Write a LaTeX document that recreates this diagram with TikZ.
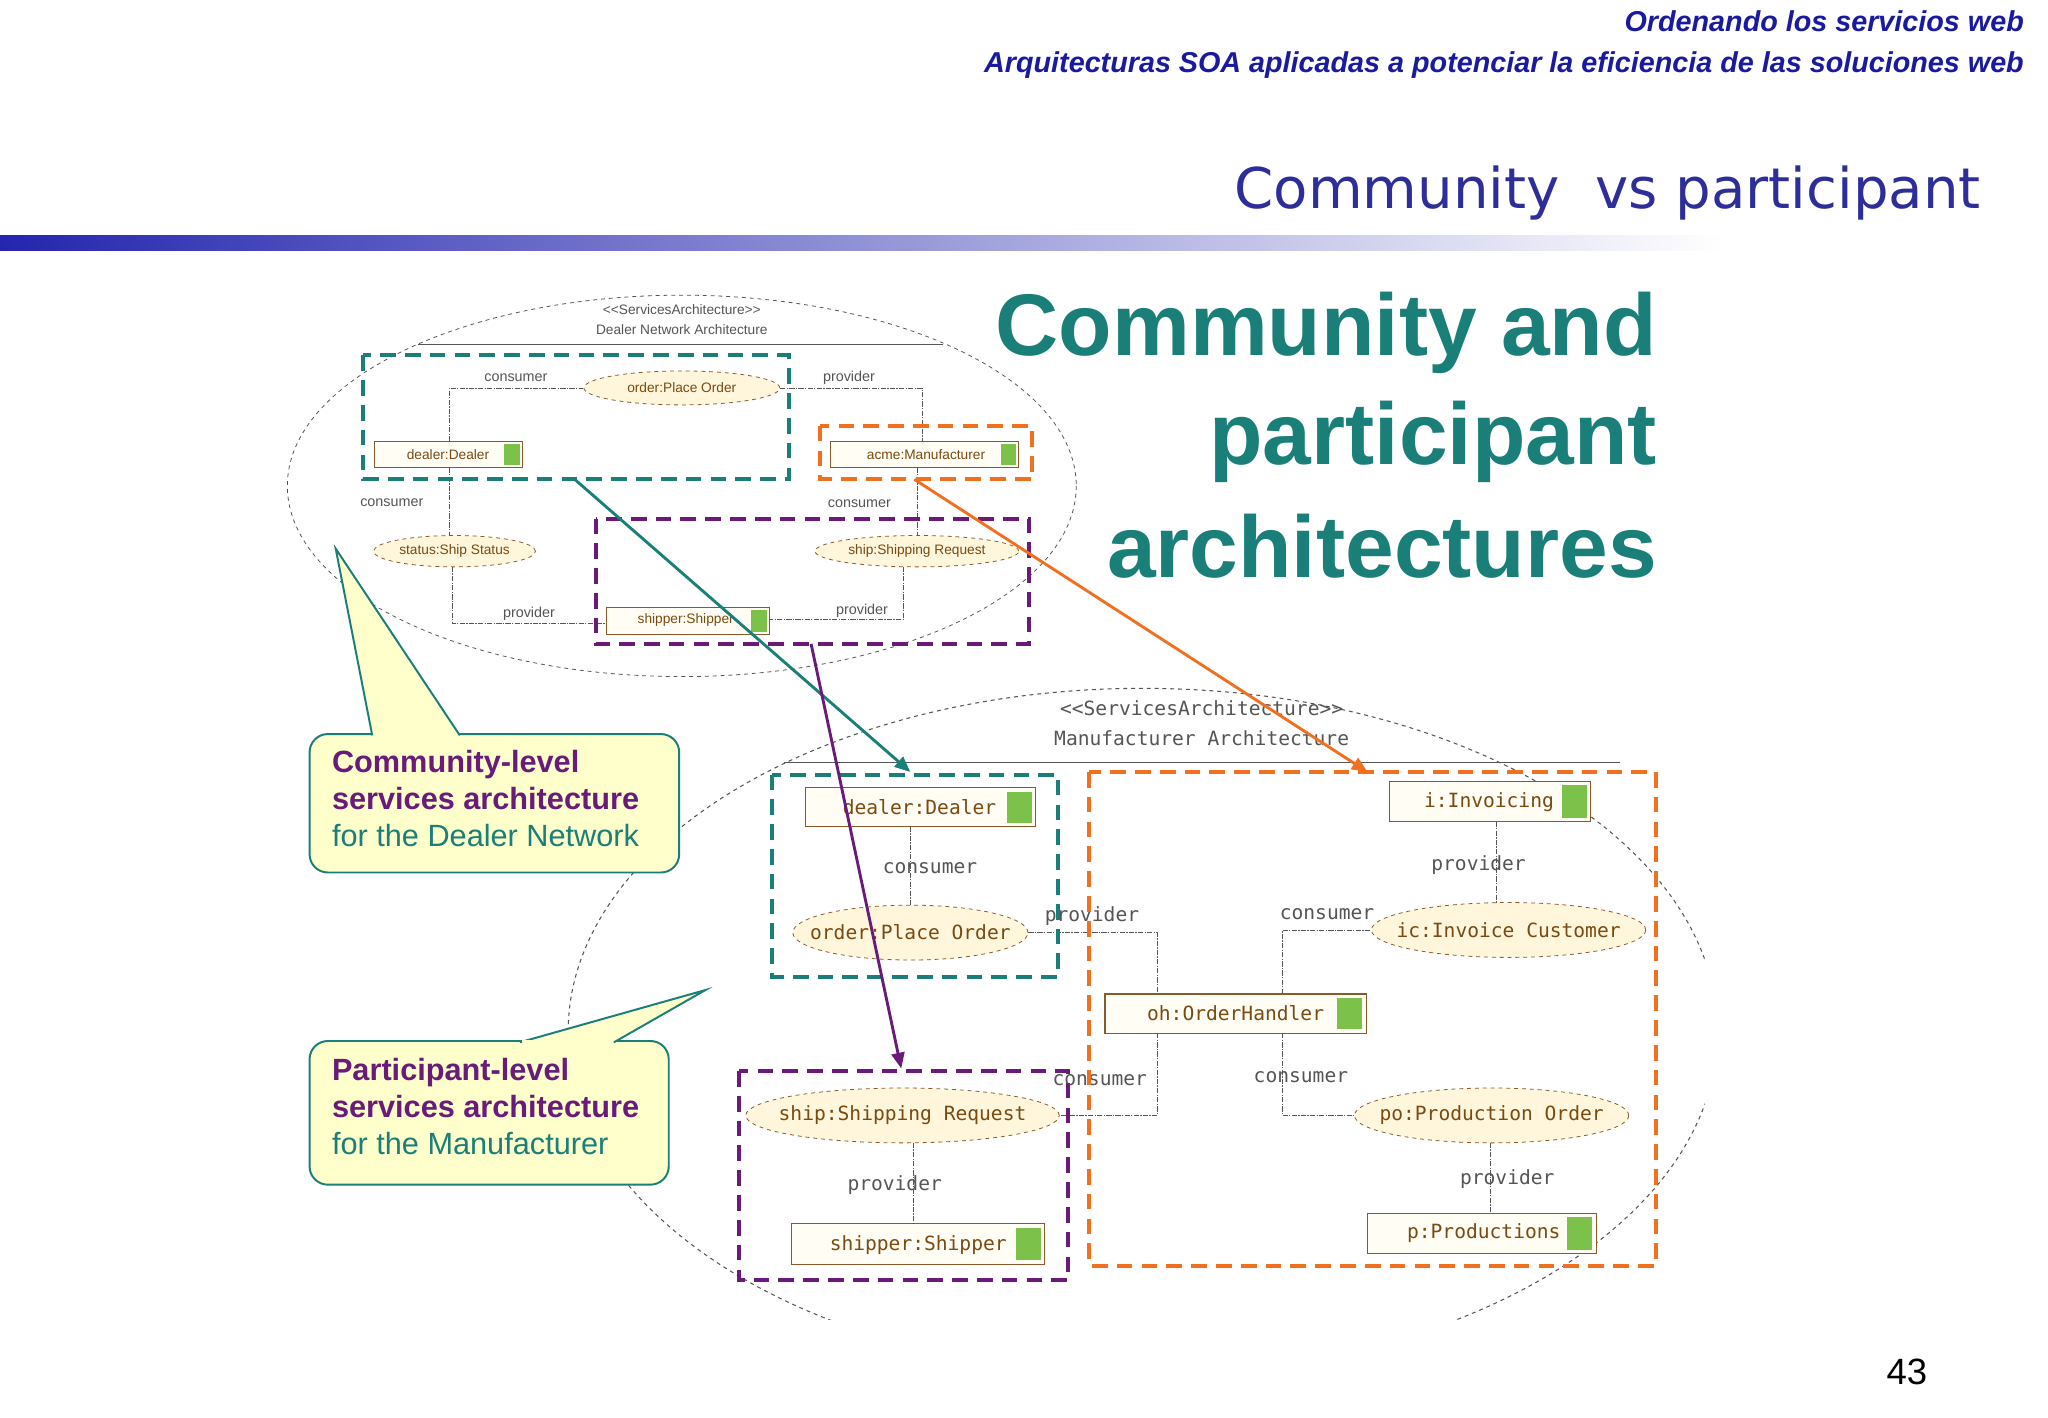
\documentclass[tikz,border=0pt]{standalone}
\usepackage{fontspec}
\setmainfont{Liberation Sans}
\newfontfamily\mono{DejaVu Sans Mono}
\newfontfamily\verd{DejaVu Sans}
\usetikzlibrary{arrows.meta,shapes.geometric}
\definecolor{teal1}{HTML}{1A7F78}
\definecolor{org}{HTML}{F07020}
\definecolor{pur}{HTML}{6A1B7A}
\definecolor{tblue}{HTML}{2E2E9A}
\definecolor{hblue}{HTML}{1A1AA0}
\definecolor{brn}{HTML}{8B5A2B}
\definecolor{ntxt}{HTML}{7A4A10}
\definecolor{efill}{HTML}{FFF6DC}
\definecolor{bfill}{HTML}{FFFDF4}
\definecolor{icon}{HTML}{7CC24A}
\definecolor{lgray}{HTML}{555555}
\definecolor{callf}{HTML}{FFFFCC}
\begin{document}
\begin{tikzpicture}[x=1pt,y=-1pt,
  sbox/.style={draw=brn,fill=bfill,line width=0.8pt},
  sell/.style={draw=brn,fill=efill,dashed,line width=0.6pt},
  conn/.style={draw=lgray,line width=0.6pt,dash pattern=on 4pt off 1pt on 1pt off 1pt},
  lab/.style={text=lgray,inner sep=1pt},
  tdash/.style={draw=teal1,line width=3pt,dash pattern=on 12pt off 7pt},
  odash/.style={draw=org,line width=3pt,dash pattern=on 12pt off 7pt},
  pdash/.style={draw=pur,line width=3pt,dash pattern=on 12pt off 7pt},
  ntx/.style={text=ntxt,inner sep=0pt},
  big/.style={text=teal1,font=\fontsize{67}{70}\selectfont\bfseries,anchor=east}]
\useasboundingbox (0,0) rectangle (1568,1085);
\fill[white] (0,0) rectangle (1568,1085);
% header
\node[anchor=east,text=hblue,font=\fontsize{22}{24}\selectfont\bfseries\itshape] (h1) at (1553,16) {Ordenando los servicios web};
\node[anchor=east,text=hblue,font=\fontsize{22}{24}\selectfont\bfseries\itshape] (h2) at (1553,50) {Arquitecturas SOA aplicadas a potenciar la eficiencia de las soluciones web};
\node[anchor=east,text=tblue,font=\verd\fontsize{43}{48}\selectfont] (ttl) at (1520,148) {Community\ \ vs participant};
\shade[left color=tblue!80!blue, right color=white] (0,180) rectangle (1320,192);
\node[font=\fontsize{28}{30}\selectfont] (pg) at (1460,1050) {43};
% big title
\node[big] (b1) at (1272,255) {Community and};
\node[big] (b2) at (1272,338) {participant};
\node[big] (b3) at (1272,418) {architectures};
% ===== top diagram
\draw[lgray,dashed,line width=0.6pt] (522,372) ellipse (302 and 146);
\draw[lgray,line width=0.5pt] (320,264) -- (722,264);
\node[lgray,font=\fontsize{10.5}{12}\selectfont] (t1) at (522,237) {<{}<ServicesArchitecture>{}>};
\node[lgray,font=\fontsize{10.5}{12}\selectfont] (t2) at (522,252) {Dealer Network Architecture};
\path (522,297) node[ellipse,sell,minimum width=150pt,minimum height=26pt] (oe) {};
\node[ntx,font=\fontsize{10.5}{12}\selectfont] at (522,297) {order:Place Order};
\path (348,422) node[ellipse,sell,minimum width=124pt,minimum height=24pt] (se) {};
\node[ntx,font=\fontsize{10.5}{12}\selectfont] at (348,422) {status:Ship Status};
\path (702,422) node[ellipse,sell,minimum width=156pt,minimum height=24pt] (she) {};
\node[ntx,font=\fontsize{10.5}{12}\selectfont] at (702,422) {ship:Shipping Request};
\draw[sbox] (287,338) rectangle (400,358); \fill[icon] (386,340) rectangle (398,356);
\node[ntx,font=\fontsize{10.5}{12}\selectfont] (dd) at (343,348) {dealer:Dealer};
\draw[sbox] (636,338) rectangle (780,358); \fill[icon] (766,340) rectangle (778,356);
\node[ntx,font=\fontsize{10.5}{12}\selectfont] (am) at (709,348) {acme:Manufacturer};
\draw[sbox] (464,465) rectangle (589,486); \fill[icon] (575,467) rectangle (587,484);
\node[ntx,font=\fontsize{10.5}{12}\selectfont] (ss) at (525,475) {shipper:Shipper};
\draw[conn] (344,338) |- (oe.west);
\draw[conn] (oe.east) -| (706,338);
\draw[conn] (344,358) -- (344,410);
\draw[conn] (346,434) |- (464,477);
\draw[conn] (702,358) -- (702,410);
\draw[conn] (692,434) |- (589,474);
\begin{scope}[font=\fontsize{11}{12}\selectfont]
\node[lab] at (395,289) {consumer};
\node[lab] at (650,289) {provider};
\node[lab] at (300,385) {consumer};
\node[lab] at (658,386) {consumer};
\node[lab] at (405,470) {provider};
\node[lab] at (660,468) {provider};
\end{scope}
\draw[tdash] (278,272) rectangle (604,367);
\draw[odash] (628,326) rectangle (790,367);
\draw[pdash] (456,397) rectangle (788,493);
% ===== bottom diagram
\begin{scope}
\clip (430,520) rectangle (1305,1010);
\draw[lgray,dashed,line width=0.8pt] (875,790) ellipse (440 and 263);
\end{scope}
\draw[lgray,line width=0.6pt] (600,584) -- (1240,584);
\node[lgray,font=\mono\fontsize{15}{17}\selectfont] (t3) at (920,542) {<{}<ServicesArchitecture>{}>};
\node[lgray,font=\mono\fontsize{15}{17}\selectfont] (t4) at (920,565) {Manufacturer Architecture};
\begin{scope}[font=\mono\fontsize{15}{17}\selectfont]
\path (697,714) node[ellipse,sell,minimum width=180pt,minimum height=42pt] (oe2) {};
\node[ntx] at (697,714) {order:Place Order};
\path (1155,712) node[ellipse,sell,minimum width=210pt,minimum height=42pt] (ic) {};
\node[ntx] at (1155,712) {ic:Invoice Customer};
\path (691,854) node[ellipse,sell,minimum width=240pt,minimum height=42pt] (sr) {};
\node[ntx] at (691,854) {ship:Shipping Request};
\path (1142,854) node[ellipse,sell,minimum width=210pt,minimum height=42pt] (po) {};
\node[ntx] at (1142,854) {po:Production Order};
\draw[sbox] (617,603) rectangle (793,633); \fill[icon] (771,606) rectangle (790,630);
\node[ntx] (d2) at (704,618) {dealer:Dealer};
\draw[sbox] (846,761) rectangle (1046,791); \fill[icon] (1024,764) rectangle (1043,788);
\node[ntx] (oh) at (946,776) {oh:OrderHandler};
\draw[sbox] (1064,598) rectangle (1218,629); \fill[icon] (1196,601) rectangle (1215,626);
\node[ntx] (inv) at (1140,614) {i:Invoicing};
\draw[sbox] (606,937) rectangle (800,968); \fill[icon] (778,940) rectangle (797,965);
\node[ntx] (sh2) at (703,953) {shipper:Shipper};
\draw[sbox] (1047,929) rectangle (1222,960); \fill[icon] (1200,932) rectangle (1219,957);
\node[ntx] (pp) at (1136,944) {p:Productions};
\draw[conn] (697,633) -- (oe2.north);
\draw[conn] (oe2.east) -| (886,761);
\draw[conn] (886,791) |- (sr.east);
\draw[conn] (982,761) |- (ic.west);
\draw[conn] (982,791) |- (po.west);
\draw[conn] (1146,629) -- (1146,691);
\draw[conn] (1141,875) -- (1141,929);
\draw[conn] (699,875) -- (699,937);
\node[lab] at (712,665) {consumer};
\node[lab] at (836,701) {provider};
\node[lab] at (842,827) {consumer};
\node[lab] at (1016,700) {consumer};
\node[lab] at (996,825) {consumer};
\node[lab] at (1132,662) {provider};
\node[lab] at (1154,903) {provider};
\node[lab] at (685,907) {provider};
\end{scope}
\draw[tdash] (591,593) rectangle (810,748);
\draw[odash] (834,591) rectangle (1268,969);
\draw[pdash] (566,820) rectangle (818,980);
% arrows
\coordinate (a1s) at (440,367); \coordinate (a1e) at (697,591);
\coordinate (a2s) at (700,367); \coordinate (a2e) at (1047,591);
\coordinate (a3s) at (621,493); \coordinate (a3e) at (690,818);
\draw[teal1,line width=2.2pt,-{Triangle[length=12pt,width=10pt]}] (a1s) -- (a1e);
\draw[org,line width=2.2pt,-{Triangle[length=12pt,width=10pt]}] (a2s) -- (a2e);
\draw[pur,line width=2.2pt,-{Triangle[length=12pt,width=10pt]}] (a3s) -- (a3e);
% callouts
\draw[teal1,fill=callf,line width=1.5pt,rounded corners=14pt] (237,562) rectangle (520,668);
\draw[teal1,fill=callf,line width=1.5pt] (285,563) -- (257,420) -- (352,563);
\fill[callf] (287,566) rectangle (350,561);
\node[anchor=north west,align=left,font=\fontsize{23.5}{28.5}\selectfont,inner sep=0pt] (c1) at (254,574)
 {\textcolor{pur}{\bfseries Community-level}\\\textcolor{pur}{\bfseries services architecture}\\\textcolor{teal1}{for the Dealer Network}};
\draw[teal1,fill=callf,line width=1.5pt,rounded corners=14pt] (237,797) rectangle (512,907);
\draw[teal1,fill=callf,line width=1.5pt] (398,798) -- (540,758) -- (470,798);
\fill[callf] (400,801) rectangle (468,796);
\node[anchor=north west,align=left,font=\fontsize{23.5}{28.5}\selectfont,inner sep=0pt] (c2) at (254,810)
 {\textcolor{pur}{\bfseries Participant-level}\\\textcolor{pur}{\bfseries services architecture}\\\textcolor{teal1}{for the Manufacturer}};
\end{tikzpicture}
\end{document}
